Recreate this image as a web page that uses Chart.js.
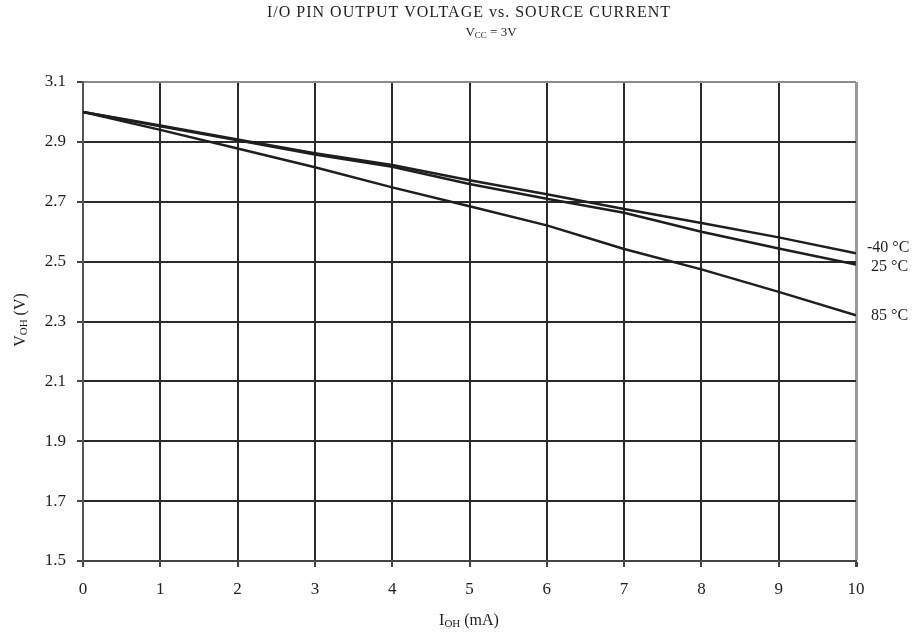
<!DOCTYPE html>
<html>
<head>
<meta charset="utf-8">
<script src="https://cdn.jsdelivr.net/npm/chart.js@4/dist/chart.umd.min.js"></script>
<style>
  html, body { margin: 0; padding: 0; background: #fff; overflow: hidden; }
  #wrap { width: 916px; height: 636px; }
  canvas { display: block; }
</style>
</head>
<body>
<div id="wrap"><canvas id="chart" width="916" height="636"></canvas></div>
<script>
// I/O pin output voltage vs source current, Vcc = 3V
const currents = [0, 1, 2, 3, 4, 5, 6, 7, 8, 9, 10];      // mA
const vMinus40 = [3.0, 2.955, 2.908, 2.862, 2.823, 2.772, 2.725, 2.676, 2.629, 2.581, 2.528];
const v25      = [3.0, 2.952, 2.905, 2.858, 2.817, 2.759, 2.710, 2.663, 2.600, 2.544, 2.490];
const v85      = [3.0, 2.940, 2.878, 2.815, 2.748, 2.685, 2.621, 2.542, 2.474, 2.399, 2.321];
const seriesNames = ["-40 °C", "25 °C", "85 °C"];
const yTicks = [1.5, 1.7, 1.9, 2.1, 2.3, 2.5, 2.7, 2.9, 3.1];

const FONT = "'Liberation Serif', 'Times New Roman', serif";
const INK = "#1e1e1e";

// text with a subscript part, e.g. V + OH + " (V)"
function subText(ctx, parts, x, y, size, align) {
  const sub = Math.round(size * 0.7);
  let w = 0;
  parts.forEach(p => {
    ctx.font = (p.sub ? sub : size) + "px " + FONT;
    w += ctx.measureText(p.t).width;
  });
  let cx = align === "center" ? x - w / 2 : x;
  parts.forEach(p => {
    ctx.font = (p.sub ? sub : size) + "px " + FONT;
    ctx.fillText(p.t, cx, p.sub ? y + size * 0.22 : y);
    cx += ctx.measureText(p.t).width;
  });
}

const labelsPlugin = {
  id: "labels",
  afterDraw(chart) {
    const { ctx, scales: { x, y } } = chart;
    ctx.save();
    ctx.fillStyle = INK;
    ctx.textBaseline = "middle";

    // titles (the original is set with wide letter spacing)
    ctx.font = "16px " + FONT;
    ctx.textAlign = "center";
    ctx.letterSpacing = "1px";
    ctx.fillText("I/O PIN OUTPUT VOLTAGE vs. SOURCE CURRENT", 469, 13);
    ctx.letterSpacing = "0px";
    ctx.textAlign = "left";
    subText(ctx, [{ t: "V" }, { t: "CC", sub: true }, { t: " = 3V" }], 491, 33, 13, "center");

    // axis titles
    subText(ctx, [{ t: "I" }, { t: "OH", sub: true }, { t: " (mA)" }], 469, 621, 16, "center");
    ctx.save();
    ctx.translate(21, 320);
    ctx.rotate(-Math.PI / 2);
    subText(ctx, [{ t: "V" }, { t: "OH", sub: true }, { t: " (V)" }], 0, 0, 16, "center");
    ctx.restore();

    // series labels at the end of each line
    const nudge = [-5, 2, 1];
    ctx.font = "16px " + FONT;
    chart.data.datasets.forEach((ds, i) => {
      const last = ds.data[ds.data.length - 1];
      const px = x.getPixelForValue(currents[currents.length - 1]);
      const py = y.getPixelForValue(last);
      ctx.fillText(seriesNames[i], px + (i === 0 ? 11 : 15), py + nudge[i]);
    });
    ctx.restore();
  }
};

const lineStyle = {
  borderColor: INK,
  borderWidth: 2.5,
  pointRadius: 0,
  fill: false,
  tension: 0
};

new Chart(document.getElementById("chart"), {
  type: "line",
  data: {
    labels: currents,
    datasets: [
      { label: seriesNames[0], data: vMinus40, ...lineStyle },
      { label: seriesNames[1], data: v25, ...lineStyle },
      { label: seriesNames[2], data: v85, ...lineStyle }
    ]
  },
  options: {
    responsive: false,
    animation: false,
    layout: { padding: { top: 82, right: 60, bottom: 0, left: 0 } },
    plugins: { legend: { display: false }, tooltip: { enabled: false } },
    scales: {
      x: {
        type: "linear",
        min: 0,
        max: 10,
        ticks: {
          stepSize: 1,
          color: INK,
          font: { family: FONT, size: 17 },
          padding: 12
        },
        grid: {
          color: c => (c.tick && c.tick.value === 10 ? "#9a9a9a" : "#2a2a2a"),
          lineWidth: c => (c.tick && c.tick.value === 10 ? 3 : 2),
          tickLength: 6,
          tickColor: "#444"
        },
        border: { color: "#444", width: 2 },
        afterFit(scale) { scale.height = 75; }
      },
      y: {
        min: 1.5,
        max: 3.1,
        afterBuildTicks(scale) { scale.ticks = yTicks.map(v => ({ value: v })); },
        ticks: {
          color: INK,
          font: { family: FONT, size: 17 },
          padding: 11,
          callback: v => v.toFixed(1)
        },
        grid: {
          color: c => (c.tick && c.tick.value === 3.1 ? "#8a8a8a" : "#2a2a2a"),
          lineWidth: 2,
          tickLength: 6,
          tickColor: "#444"
        },
        border: { color: "#555", width: 2 },
        afterFit(scale) { scale.width = 83; }
      }
    }
  },
  plugins: [labelsPlugin]
});
</script>
</body>
</html>
